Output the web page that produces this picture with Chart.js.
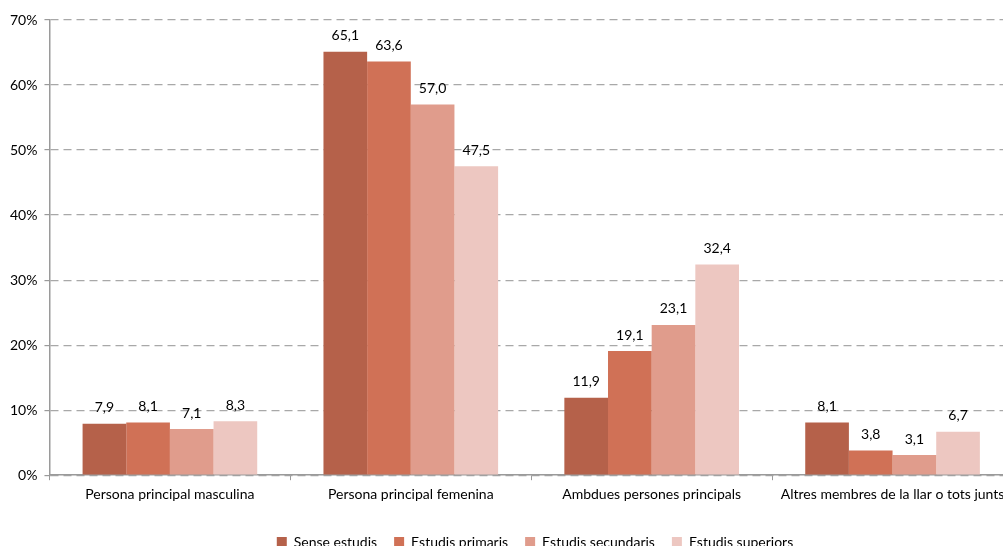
<!DOCTYPE html>
<html>
<head>
<meta charset="utf-8">
<script src="https://cdn.jsdelivr.net/npm/chart.js@4"></script>
<style>
html,body{margin:0;padding:0;overflow:hidden;background:#fff;}
#wrap{width:1013px;height:550px;position:relative;}
</style>
</head>
<body>
<div id="wrap"><canvas id="c"></canvas></div>
<script>
const categories = ["Persona principal masculina","Persona principal femenina","Ambdues persones principals","Altres membres de la llar o tots junts"];
const seriesNames = ["Sense estudis","Estudis primaris","Estudis secundaris","Estudis superiors"];
const senseEstudis = [7.9, 65.1, 11.9, 8.1];
const estudisPrimaris = [8.1, 63.6, 19.1, 3.8];
const estudisSecundaris = [7.1, 57.0, 23.1, 3.1];
const estudisSuperiors = [8.3, 47.5, 32.4, 6.7];
const yTicks = [0,10,20,30,40,50,60,70];
const colors = ["#B5614A","#D07156","#E09C8C","#EDC7C1"];

const FONT = "Lato, 'Open Sans', sans-serif";
const FS = 14;

const valueLabels = {
  id:'valueLabels',
  afterDatasetsDraw(chart){
    const ctx = chart.ctx;
    ctx.save();
    ctx.font = FS + "px " + FONT;
    ctx.fillStyle = "#000";
    ctx.textAlign = "center";
    ctx.textBaseline = "middle";
    chart.data.datasets.forEach((ds,i)=>{
      const meta = chart.getDatasetMeta(i);
      meta.data.forEach((el,j)=>{
        ctx.fillText(ds.data[j].toFixed(1).replace('.',','), el.x, el.y - 16);
      });
    });
    ctx.restore();
  }
};

const shiftLegend = {
  id:'shiftLegend',
  afterLayout(chart){
    const lg = chart.legend;
    if(!lg) return;
    const dx = 27, dy = 9;
    lg.left += dx; lg.right += dx;
    lg.top += dy; lg.bottom += dy;
  }
};

new Chart(document.getElementById('c'), {
  type:'bar',
  data:{
    labels: categories,
    datasets: [senseEstudis, estudisPrimaris, estudisSecundaris, estudisSuperiors].map((d,i)=>({
      label: seriesNames[i], data: d, backgroundColor: colors[i],
      categoryPercentage: 0.725, barPercentage: 1.0, borderWidth: 0
    }))
  },
  options:{
    responsive:true, maintainAspectRatio:false, animation:false,
    devicePixelRatio: 1,
    layout:{padding:{left:3, right:0, top:20, bottom:0}},
    plugins:{
      tooltip:{enabled:false},
      legend:{
        position:'bottom',
        labels:{boxWidth:10, boxHeight:10, padding:17, color:'#000', font:{family:FONT, size:FS}}
      }
    },
    scales:{
      x:{
        grid:{drawOnChartArea:false, drawTicks:true, tickLength:5, color:'#9A9A9A', offset:true},
        border:{color:'#9A9A9A', width:1.5},
        ticks:{color:'#000', padding:6, font:{family:FONT, size:FS}, maxRotation:0, autoSkip:false}
      },
      y:{
        min:0, max:70,
        afterBuildTicks(axis){ axis.ticks = yTicks.map(v=>({value:v})); },
        grid:{color:'#A8A8A8', lineWidth:1.2, tickLength:5, tickColor:'#9A9A9A', tickBorderDash:[]},
        border:{color:'#9A9A9A', width:1.5, dash:[8,5]},
        ticks:{color:'#000', padding:7, font:{family:FONT, size:FS}, callback:v=>v+'%'}
      }
    }
  },
  plugins:[valueLabels, shiftLegend]
});
</script>
</body>
</html>
